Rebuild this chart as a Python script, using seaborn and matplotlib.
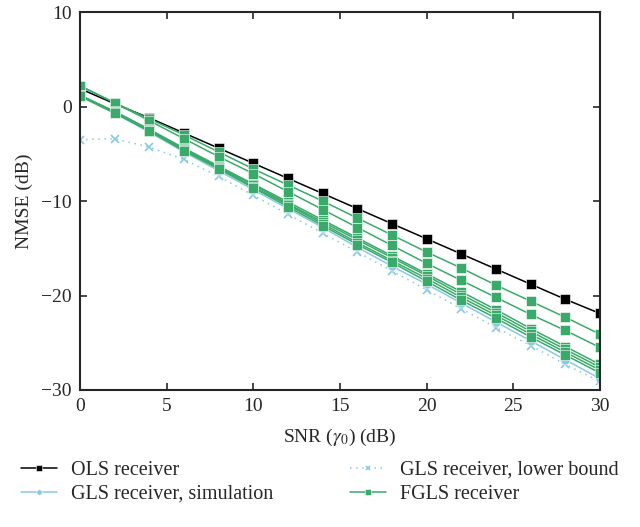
import matplotlib
matplotlib.use("Agg")
import matplotlib.pyplot as plt
import seaborn as sns
import pandas as pd

# SNR axis (dB)
snr = [0, 2, 4, 6, 8, 10, 12, 14, 16, 18, 20, 22, 24, 26, 28, 30]

# NMSE (dB)
ols = [1.9, 0.3, -1.2, -2.8, -4.4, -6.0, -7.6, -9.2, -10.8, -12.4, -14.0, -15.6, -17.2, -18.8, -20.4, -21.9]
gls_sim = [1.1, -0.7, -2.7, -4.8, -6.8, -8.8, -10.8, -12.8, -14.9, -16.9, -18.8, -20.8, -22.8, -24.8, -26.8, -28.8]
gls_lb = [-3.5, -3.4, -4.3, -5.6, -7.4, -9.4, -11.4, -13.4, -15.4, -17.4, -19.4, -21.4, -23.4, -25.3, -27.3, -29.1]
fgls = [
    [2.2, 0.4, -1.3, -3.0, -4.8, -6.6, -8.3, -10.0, -11.8, -13.6, -15.4, -17.1, -18.9, -20.6, -22.3, -24.1],
    [2.2, 0.4, -1.5, -3.4, -5.3, -7.1, -9.0, -10.9, -12.8, -14.7, -16.6, -18.4, -20.2, -22.0, -23.7, -25.5],
    [1.2, -0.5, -2.4, -4.4, -6.3, -8.2, -10.1, -12.0, -13.9, -15.8, -17.7, -19.6, -21.5, -23.5, -25.4, -27.3],
    [1.2, -0.6, -2.5, -4.5, -6.4, -8.3, -10.3, -12.2, -14.1, -16.0, -17.9, -19.9, -21.8, -23.8, -25.7, -27.6],
    [1.2, -0.6, -2.6, -4.6, -6.5, -8.5, -10.4, -12.4, -14.4, -16.3, -18.2, -20.2, -22.1, -24.1, -26.0, -27.9],
    [1.1, -0.7, -2.6, -4.7, -6.6, -8.6, -10.6, -12.6, -14.6, -16.5, -18.5, -20.5, -22.4, -24.4, -26.3, -28.2],
]

green = "#3aaa6b"
blue = "#88c9e8"

sns.set_style("ticks")
plt.rcParams["font.family"] = ["Liberation Serif", "DejaVu Serif"]
plt.rcParams["mathtext.fontset"] = "stix"
plt.rcParams["xtick.direction"] = "in"
plt.rcParams["ytick.direction"] = "in"

fig = plt.figure(figsize=(6.4, 5.27), dpi=100)
ax = fig.add_axes([0.125, 0.26, 0.8125, 0.717])

sns.lineplot(x=snr, y=ols, ax=ax, color="black", lw=1.1, marker="s", ms=6.5,
             mec="white", mew=0.4, label="OLS receiver")
sns.lineplot(x=snr, y=gls_lb, ax=ax, color=blue, lw=1.1, ls=(0, (1, 3)), marker="x",
             ms=5.5, mec=blue, mew=1.2, label="GLS receiver, lower bound")
sns.lineplot(x=snr, y=gls_sim, ax=ax, color=blue, lw=1.1, marker="o", ms=6.5,
             mec="white", mew=0.4, label="GLS receiver, simulation")
for i, f in enumerate(fgls):
    sns.lineplot(x=snr, y=f, ax=ax, color=green, lw=1.1, marker="s", ms=6.5,
                 mec="white", mew=0.4, label="FGLS receiver" if i == 0 else None)

ax.set_xlim(0, 30)
ax.set_ylim(-30, 10)
ax.set_xticks([0, 5, 10, 15, 20, 25, 30])
ax.set_yticks([-30, -20, -10, 0, 10])
ax.set_yticklabels(["\u221230", "\u221220", "\u221210", "0", "10"])
ax.tick_params(top=True, right=True, labelsize=14, length=5, width=1.2, pad=6)
for s in ax.spines.values():
    s.set_linewidth(1.5)

ax.set_xlabel(r"SNR ($\gamma_0$) (dB)", fontsize=14, labelpad=8)
ax.set_ylabel("NMSE (dB)", fontsize=14, labelpad=6)

handles, labels = ax.get_legend_handles_labels()
order = [0, 2, 1, 3]
ax.get_legend().remove()
fig.legend([handles[i] for i in order], [labels[i] for i in order],
           loc="upper center", bbox_to_anchor=(0.5, 0.16), ncol=2,
           frameon=False, fontsize=14.5, handlelength=1.8, columnspacing=3.8,
           handletextpad=0.7, labelspacing=0.25, markerscale=0.6)

plt.savefig("out.png", dpi=100)
